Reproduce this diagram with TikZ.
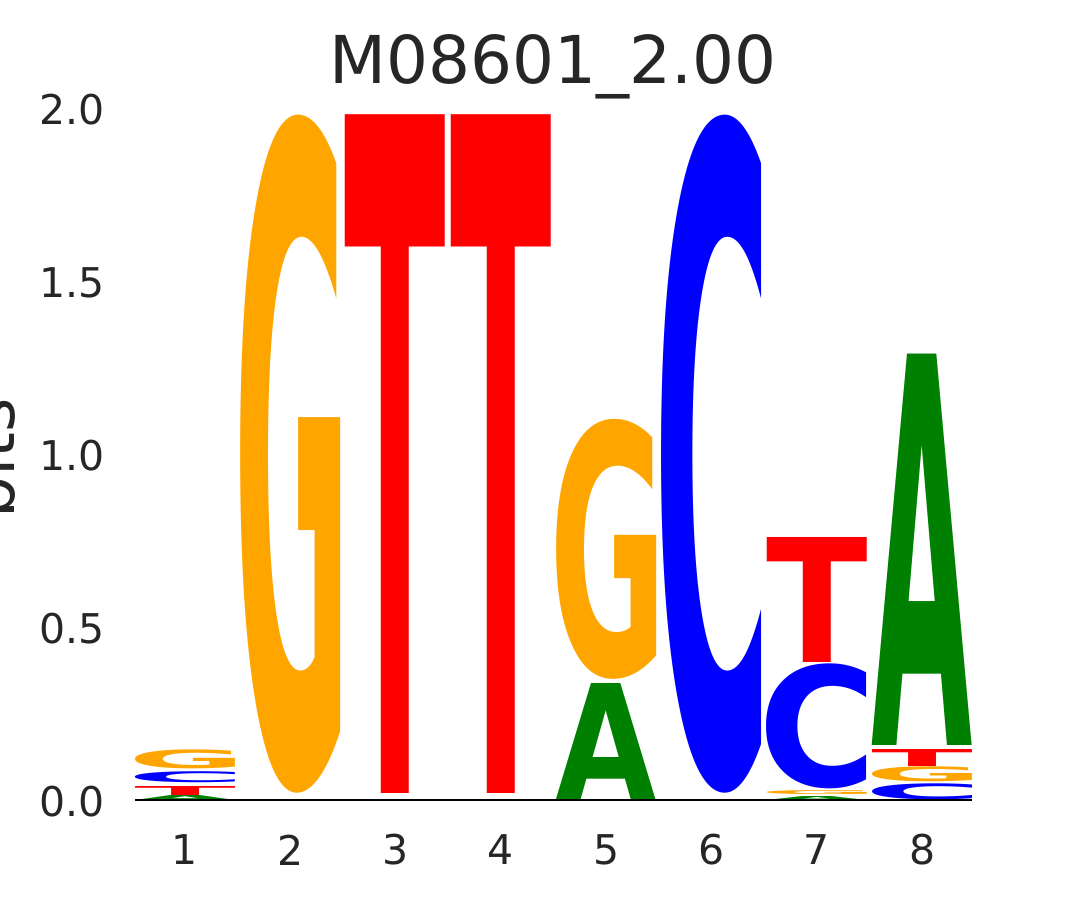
\documentclass[tikz,border=0pt]{standalone}
\usepackage{fontspec}
\usepackage{graphicx}
\setmainfont{DejaVu Sans}
\newfontfamily\logofont{DejaVu Sans}

\definecolor{baseA}{HTML}{008000}
\definecolor{baseC}{HTML}{0000FF}
\definecolor{baseG}{HTML}{FFA500}
\definecolor{baseT}{HTML}{FF0000}
\definecolor{axistext}{HTML}{262626}

\newcommand\inkglyph[1]{%
  \count255=\XeTeXcharglyph`#1\relax
  \dimen0=\XeTeXglyphbounds1 \count255\relax
  \dimen2=\XeTeXglyphbounds3 \count255\relax
  \kern-\dimen0 #1\kern-\dimen2 }

\newcommand\logoletter[4]{%
  \node[logoletter, text=base#4] at ({135+(#1-1)*105.3},#2)
    {\resizebox*{50pt}{\dimexpr(#3pt-#2pt)/2\relax}{\logofont\bfseries\inkglyph{#4}}};}

\tikzset{
  logoletter/.style={anchor=north west, inner sep=0pt, outer sep=0pt},
  ticklabel/.style={text=axistext, font=\fontsize{20.5}{24}\selectfont, inner sep=0pt},
}

\begin{document}
\begin{tikzpicture}[x=0.5pt, y=-0.5pt]
    \useasboundingbox (0,0) rectangle (1080,900);

    \logoletter{1}{795}{800}{A}
    \logoletter{1}{786}{795}{T}
    \logoletter{1}{772}{783}{C}
    \logoletter{1}{750}{769}{G}

    \logoletter{2}{115}{793}{G}
    \logoletter{3}{115}{793}{T}
    \logoletter{4}{115}{793}{T}

    \logoletter{5}{683}{800}{A}
    \logoletter{5}{419}{679}{G}

    \logoletter{6}{115}{793}{C}

    \logoletter{7}{796}{800}{A}
    \logoletter{7}{791}{795}{G}
    \logoletter{7}{664}{789}{C}
    \logoletter{7}{537}{662}{T}

    \logoletter{8}{784}{800}{C}
    \logoletter{8}{767}{782}{G}
    \logoletter{8}{749}{766}{T}
    \logoletter{8}{354}{745}{A}

    \coordinate (base west) at (135,800);
    \coordinate (base east) at (972,800);
    \draw[line width=1pt] (base west) -- (base east);

    \foreach \v [count=\i from 0] in {0.0,0.5,1.0,1.5,2.0}
        \node[ticklabel, anchor=east] (ytick\i) at (105,{801.5-173*\i}) {\v};
    \foreach \i in {1,...,8}
        \node[ticklabel] (xtick\i) at ({185+(\i-1)*105.3},850) {\i};

    \node[text=axistext, font=\fontsize{33}{38}\selectfont, rotate=90, anchor=south, inner sep=0pt] (ylabel) at (16,458) {bits};
    \node[text=axistext, font=\fontsize{33}{38}\selectfont, anchor=base, inner sep=0pt] (title) at (553,83) {M08601\_2.00};
\end{tikzpicture}
\end{document}
